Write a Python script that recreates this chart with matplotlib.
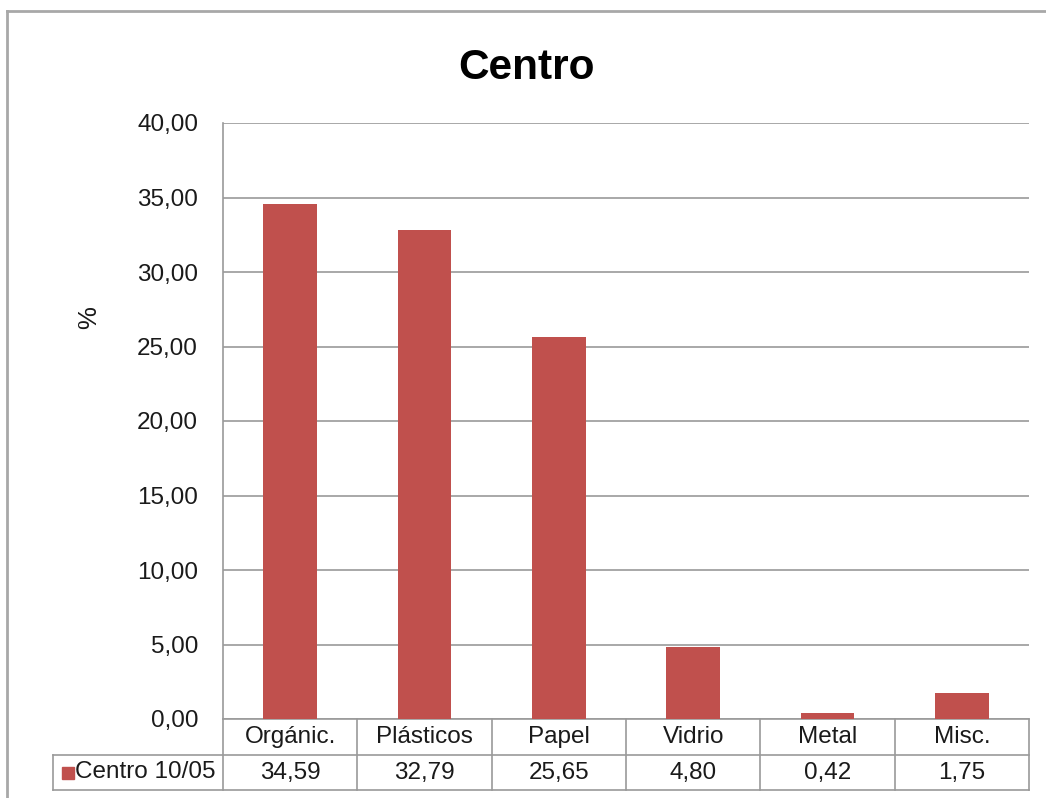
import matplotlib.pyplot as plt
from matplotlib.lines import Line2D
from matplotlib.patches import Rectangle
from matplotlib.transforms import blended_transform_factory

plt.rcParams['font.family'] = ['Liberation Sans', 'DejaVu Sans']

# datos
categorias = ['Orgánic.', 'Plásticos', 'Papel', 'Vidrio', 'Metal', 'Misc.']
valores = [34.59, 32.79, 25.65, 4.80, 0.42, 1.75]
serie = 'Centro 10/05'
titulo = 'Centro'
yticks = [0, 5, 10, 15, 20, 25, 30, 35, 40]

rojo = '#C0504D'
gris = '#9A9A9A'
texto = '#1A1A1A'
fs = 17.5
W, H = 1046, 798

fig = plt.figure(figsize=(W / 100, H / 100), dpi=100)
# area del grafico en pixeles
x0, x1, y0, y1 = 223, 1029, 123, 719
ax = fig.add_axes([x0 / W, 1 - y1 / H, (x1 - x0) / W, (y1 - y0) / H])

x = list(range(len(categorias)))
ax.bar(x, valores, width=0.4, color=rojo, zorder=3)
ax.set_xlim(-0.5, len(categorias) - 0.5)
ax.set_ylim(0, 40)
ax.set_yticks(yticks)
ax.set_yticklabels([f'{v:.2f}'.replace('.', ',') for v in yticks], fontsize=fs, color=texto)
ax.set_xticks([])
ax.tick_params(axis='y', length=0, pad=18)
ax.yaxis.grid(True, color=gris, linewidth=1.2, zorder=0)
for s in ['top', 'right']:
    ax.spines[s].set_visible(False)
ax.spines['left'].set_color(gris)
ax.spines['bottom'].set_color(gris)
ax.spines['left'].set_linewidth(1.2)
ax.spines['bottom'].set_linewidth(1.2)

ax.set_ylabel('%', fontsize=fs + 1, color=texto)
ax.yaxis.set_label_coords(-122 / (x1 - x0), (y1 - 318) / (y1 - y0))
fig.text(527 / W, 1 - 68 / H, titulo, fontsize=30.5, fontweight='bold', ha='center', va='center')

# tabla de datos
ah = y1 - y0
aw = x1 - x0
r1 = -(755 - y1) / ah
r2 = -(790 - y1) / ah
xl = (53 - x0) / aw
kw = dict(transform=ax.transAxes, color=gris, linewidth=1.2, clip_on=False)
ax.add_line(Line2D([xl, 1], [r1, r1], **kw))
ax.add_line(Line2D([xl, 1], [r2, r2], **kw))
ax.add_line(Line2D([xl, xl], [r1, r2], **kw))
for i in range(len(categorias) + 1):
    xf = i / len(categorias)
    ax.add_line(Line2D([xf, xf], [0, r2], **kw))

bt = blended_transform_factory(ax.transData, ax.transAxes)
for xi, cat, v in zip(x, categorias, valores):
    ax.text(xi, r1 / 2, cat, transform=bt, ha='center', va='center', fontsize=fs, color=texto)
    ax.text(xi, (r1 + r2) / 2, f'{v:.2f}'.replace('.', ','), transform=bt,
            ha='center', va='center', fontsize=fs, color=texto)

sq = 12
ax.add_patch(Rectangle(((62 - x0) / aw, (r1 + r2) / 2 - sq / 2 / ah), sq / aw, sq / ah,
                       transform=ax.transAxes, color=rojo, clip_on=False))
ax.text((75 - x0) / aw, (r1 + r2) / 2, serie, transform=ax.transAxes, ha='left', va='center',
        fontsize=fs, color=texto)

# borde del grafico
fig.add_artist(Line2D([7 / W, 7 / W], [0, 1 - 11 / H], transform=fig.transFigure, color='#A8A8A8', linewidth=2))
fig.add_artist(Line2D([7 / W, 1], [1 - 11 / H, 1 - 11 / H], transform=fig.transFigure, color='#A8A8A8', linewidth=2))

fig.savefig('out.png', dpi=100)
